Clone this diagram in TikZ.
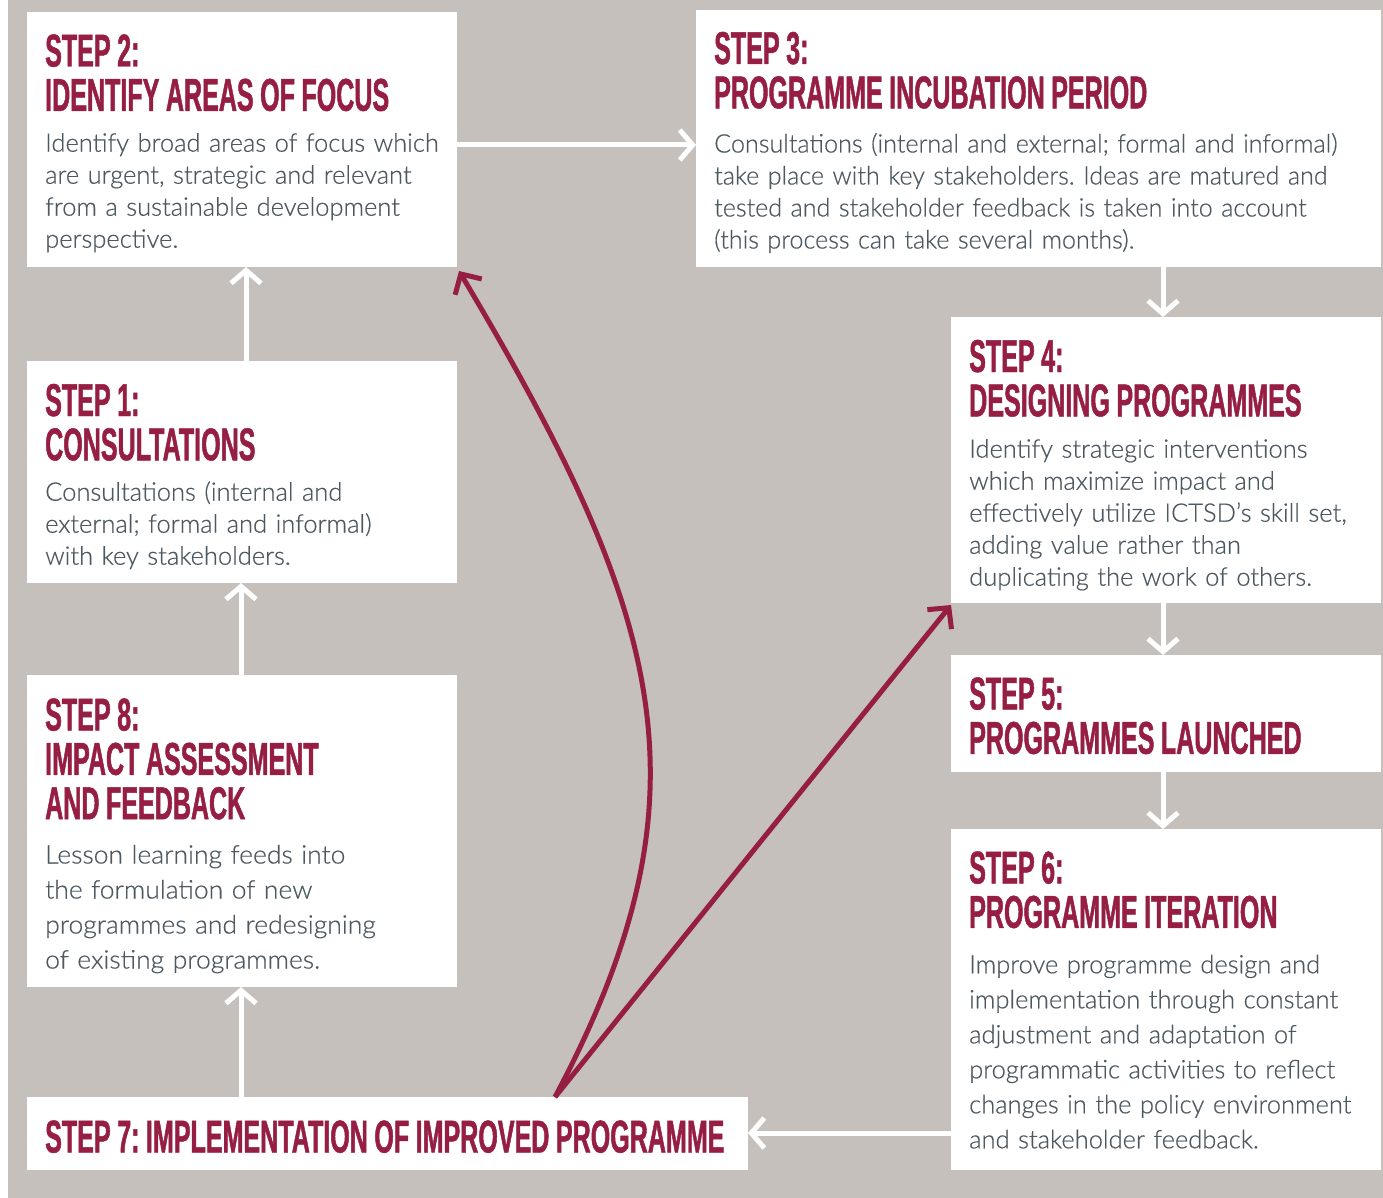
\documentclass[tikz,border=0pt]{standalone}
\usepackage{fontspec}
\usetikzlibrary{arrows.meta,calc}
\frenchspacing
\newfontfamily\titlefont{Liberation Sans}[UprightFont=* Bold, FakeStretch=0.545, FakeBold=1]
\IfFontExistsTF{Lato Light}{%
  \newfontfamily\bodyfont{Lato Light}[FakeBold=0.5]
  \newfontfamily\bodynarrow{Lato Light}[FakeStretch=0.985, FakeBold=0.5]
  \newfontfamily\bodywider{Lato Light}[FakeStretch=1.04, FakeBold=0.5]
}{%
  \newfontfamily\bodyfont{Lato}
  \newfontfamily\bodynarrow{Lato}[FakeStretch=0.985]
  \newfontfamily\bodywider{Lato}[FakeStretch=1.04]
}
\newcommand\titlesel{\titlefont\fontsize{46}{44.3}\selectfont}
\newlength\ttlspace
\setlength\ttlspace{6.5pt}
\definecolor{bggrey}{HTML}{C5C0BB}
\definecolor{stepred}{HTML}{951E42}
\definecolor{bodygrey}{HTML}{4D5960}
\tikzset{
  box/.style={fill=white, draw=none, inner sep=0pt, outer sep=0pt, anchor=north west},
  ttl/.style={anchor=base west, inner sep=0pt, text width=1000pt, align=left, text=stepred,
    font=\titlesel, execute at begin node={\spaceskip=\ttlspace}},
  bdy/.style={anchor=base west, inner sep=0pt, text width=700pt, align=left, text=bodygrey,
    font=\bodyfont\fontsize{25.5}{32}\selectfont},
  bdywide/.style={bdy, font=\bodyfont\fontsize{25.5}{35}\selectfont},
  bdywider/.style={bdy, font=\bodywider\fontsize{25.5}{35}\selectfont},
  bdynarrow/.style={bdy, font=\bodynarrow\fontsize{25.5}{32}\selectfont},
  flow/.style={draw=white, line width=5pt, -{Straight Barb[length=13pt,width=30pt]}},
  back/.style={draw=stepred, line width=5pt, -{Straight Barb[length=15pt,width=31pt]}},
}
\begin{document}
\begin{tikzpicture}[x=1pt,y=-1pt]
\fill[white] (0,0) rectangle (1383,1198);
\fill[bggrey] (8,0) rectangle (1383,1198);
\useasboundingbox (0,0) rectangle (1383,1198);

% boxes
\node[box, minimum width=430pt, minimum height=255pt] (s2) at (27,12) {};
\node[box, minimum width=685pt, minimum height=257pt] (s3) at (696,10) {};
\node[box, minimum width=430pt, minimum height=222pt] (s1) at (27,361) {};
\node[box, minimum width=430pt, minimum height=286pt] (s4) at (951,317) {};
\node[box, minimum width=430pt, minimum height=117pt] (s5) at (951,655) {};
\node[box, minimum width=430pt, minimum height=312pt] (s8) at (27,675) {};
\node[box, minimum width=430pt, minimum height=341pt] (s6) at (951,829) {};
\node[box, minimum width=721pt, minimum height=73pt] (s7) at (27,1097) {};

% texts
\node[ttl] (t2) at (45,66.5) {STEP 2:\\IDENTIFY AREAS OF FOCUS};
\node[bdy] (b2) at (45,151.7) {Identify broad areas of focus which\\are urgent, strategic and relevant\\from a sustainable development\\perspective.};

\node[ttl] (t3) at (714,64) {STEP 3:\\PROGRAMME INCUBATION PERIOD};
\node[bdynarrow] (b3) at (714,152.5) {Consultations (internal and external; formal and informal)\\take place with key stakeholders. Ideas are matured and\\tested and stakeholder feedback is taken into account\\(this process can take several months).};

\node[ttl] (t1) at (45,416) {STEP 1:\\CONSULTATIONS};
\node[bdy] (b1) at (45,500.7) {Consultations (internal and\\external; formal and informal)\\with key stakeholders.};

\node[ttl] (t4) at (969,372) {STEP 4:\\DESIGNING PROGRAMMES};
\node[bdy] (b4) at (969,457.7) {Identify strategic interventions\\which maximize impact and\\effectively utilize ICTSD’s skill set,\\adding value rather than\\duplicating the work of others.};

\node[ttl] (t5) at (969,709.5) {STEP 5:\\PROGRAMMES LAUNCHED};

\node[ttl] (t8) at (45,730.5) {STEP 8:\\IMPACT ASSESSMENT\\AND FEEDBACK};
\node[bdywider] (b8) at (45,863.5) {Lesson learning feeds into\\the formulation of new\\programmes and redesigning\\of existing programmes.};

\node[ttl] (t6) at (969,883.5) {STEP 6:\\PROGRAMME ITERATION};
\node[bdywide] (b6) at (969,973.3) {Improve programme design and\\implementation through constant\\adjustment and adaptation of\\programmatic activities to reflect\\changes in the policy environment\\and stakeholder feedback.};

\node[ttl] (t7) at (45,1152.5) {STEP 7: IMPLEMENTATION OF IMPROVED PROGRAMME};

% white flow arrows
\draw[flow] (s2.east |- 0,145) -- (s3.west |- 0,145);
\draw[flow] (s3.south -| 1163,0) -- (s4.north -| 1163,0);
\draw[flow] (s4.south -| 1163,0) -- (s5.north -| 1163,0);
\draw[flow] (s5.south -| 1163,0) -- (s6.north -| 1163,0);
\draw[flow] (s6.west |- 0,1133) -- (s7.east |- 0,1133);
\draw[flow] (s7.north -| 241,0) -- (s8.south -| 241,0);
\draw[flow] (s8.north -| 241,0) -- (s1.south -| 241,0);
\draw[flow] (s1.north -| 246,0) -- (s2.south -| 246,0);

% red feedback arrows
\coordinate (r0) at (s7.north -| 555,0);
\draw[back] (r0) .. controls (716,794) and (665,617) .. ($(s2.south east)+(2,4)$);
\draw[back] (r0) -- ($(s4.south west)+(0,2)$);
\end{tikzpicture}
\end{document}
